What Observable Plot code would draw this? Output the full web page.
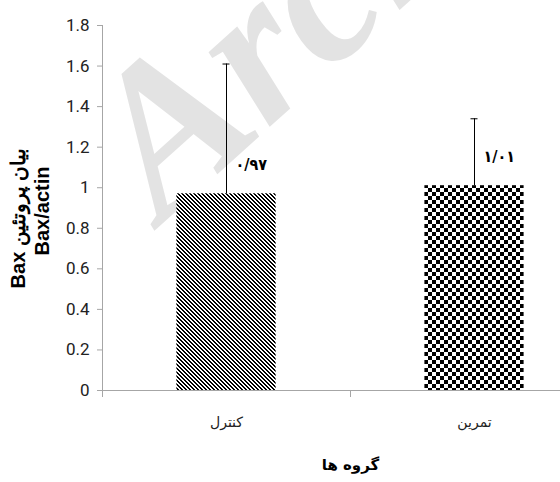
<!DOCTYPE html>
<html><head><meta charset="utf-8">
<script src="https://cdn.jsdelivr.net/npm/d3@7"></script>
<script src="https://cdn.jsdelivr.net/npm/@observablehq/plot@0.6"></script>
<style>body{margin:0;background:#fff;overflow:hidden}</style>
</head><body><div id="chart"></div>
<script>
const groups = ["کنترل", "تمرین"];
const means = [0.97, 1.01];
const errorTops = [1.61, 1.34];
const valueLabels = ["۰/۹۷", "۱/۰۱"];
const yTicks = [0, 0.2, 0.4, 0.6, 0.8, 1, 1.2, 1.4, 1.6, 1.8];
const yTickLabels = ["0", "0.2", "0.4", "0.6", "0.8", "1", "1.2", "1.4", "1.6", "1.8"];
const xTitle = "گروه ها";
const yTitle1 = "\u202Bبیان پروتئین Bax\u202C";
const yTitle2 = "Bax/actin";
const watermark = "Archive";
const fills = ["url(#hatch)", "url(#checker)"];

const rows = groups.map((g, i) => ({g, i, mean: means[i], top: errorTops[i], label: valueLabels[i], fill: fills[i]}));
const axisGray = "#a6a6a6";

const svg = Plot.plot({
  width: 560,
  height: 482,
  marginLeft: 102,
  marginTop: 25,
  marginBottom: 92,
  marginRight: 0,
  style: {background: "#fff", fontFamily: "Liberation Sans, sans-serif"},
  x: {type: "linear", domain: [0, groups.length], range: [102, 598]},
  y: {domain: [0, 1.8]},
  color: {type: "identity"},
  marks: [
    Plot.text([watermark], {frameAnchor: "top-left", dx: 60, dy: 198, rotate: -42, textAnchor: "start", lineAnchor: "bottom",
      fontSize: 210, fontFamily: "Liberation Serif", fontStyle: "italic", fontWeight: "bold", fill: "#e3e3e3"}),
    Plot.rect(rows, {x1: d => d.i + 0.3, x2: d => d.i + 0.7, y1: 0, y2: "mean", fill: "fill"}),
    Plot.ruleX(rows, {x: d => d.i + 0.5, y1: "mean", y2: "top", stroke: "#000", strokeWidth: 1}),
    Plot.ruleY(rows, {y: "top", x1: d => d.i + 0.5, x2: d => d.i + 0.5, insetLeft: -3.5, insetRight: -3.5, stroke: "#000"}),
    Plot.text(rows, {x: d => d.i + 0.5, y: "mean", text: "label", dx: 9, dy: -29, textAnchor: "start",
      fontSize: 16, fontWeight: "bold", fontFamily: "DejaVu Sans Condensed", fill: "#000"}),
    Plot.ruleX([0], {stroke: axisGray, insetBottom: -7}),
    Plot.ruleY([0], {stroke: axisGray}),
    Plot.axisY({ticks: yTicks, tickFormat: d => yTickLabels[yTicks.indexOf(d)], tickSize: 5, tickPadding: 8,
      fontSize: 17, fontFamily: "Roboto", stroke: axisGray, fill: "#222", label: null}),
    Plot.axisX({ticks: [0, 1, 2], tickSize: 7, tickFormat: () => "", stroke: axisGray, label: null}),
    Plot.axisX({ticks: groups.map((g, i) => i + 0.5), tickSize: 0, tickPadding: 27, tickFormat: d => groups[Math.floor(d)],
      fontSize: 14, fontFamily: "DejaVu Sans", fill: "#222", label: null}),
    Plot.text([xTitle], {x: () => groups.length / 2, frameAnchor: "bottom", dy: 79, fontWeight: "bold", fontSize: 15,
      fontFamily: "DejaVu Sans", fill: "#000"}),
    Plot.text([yTitle1], {frameAnchor: "left", dx: -84, dy: 10, rotate: -90, textAnchor: "middle", fontWeight: "bold", fontSize: 20,
      fontFamily: "Liberation Sans", fill: "#000"}),
    Plot.text([yTitle2], {frameAnchor: "left", dx: -60, dy: 3, rotate: -90, textAnchor: "middle", fontWeight: "bold", fontSize: 20,
      fontFamily: "Liberation Sans", fill: "#000"})
  ]
});

const ns = "http://www.w3.org/2000/svg";
const defs = document.createElementNS(ns, "defs");
function pattern(id, size, cells) {
  const p = document.createElementNS(ns, "pattern");
  p.setAttribute("id", id);
  p.setAttribute("width", size);
  p.setAttribute("height", size);
  p.setAttribute("patternUnits", "userSpaceOnUse");
  const bg = document.createElementNS(ns, "rect");
  bg.setAttribute("width", size); bg.setAttribute("height", size); bg.setAttribute("fill", "#fff");
  p.appendChild(bg);
  for (const [x, y, w, h] of cells) {
    const r = document.createElementNS(ns, "rect");
    r.setAttribute("x", x); r.setAttribute("y", y); r.setAttribute("width", w); r.setAttribute("height", h);
    r.setAttribute("fill", "#000");
    r.setAttribute("shape-rendering", "crispEdges");
    p.appendChild(r);
  }
  defs.appendChild(p);
}
const hatchCells = [];
for (let y = 0; y < 4; y++) for (const k of [0, 1]) hatchCells.push([(y + k) % 4, y, 1, 1]);
pattern("hatch", 4, hatchCells);
pattern("checker", 8, [[0, 0, 4, 4], [4, 4, 4, 4]]);
svg.insertBefore(defs, svg.firstChild);
document.getElementById("chart").appendChild(svg);
</script>
</body></html>
